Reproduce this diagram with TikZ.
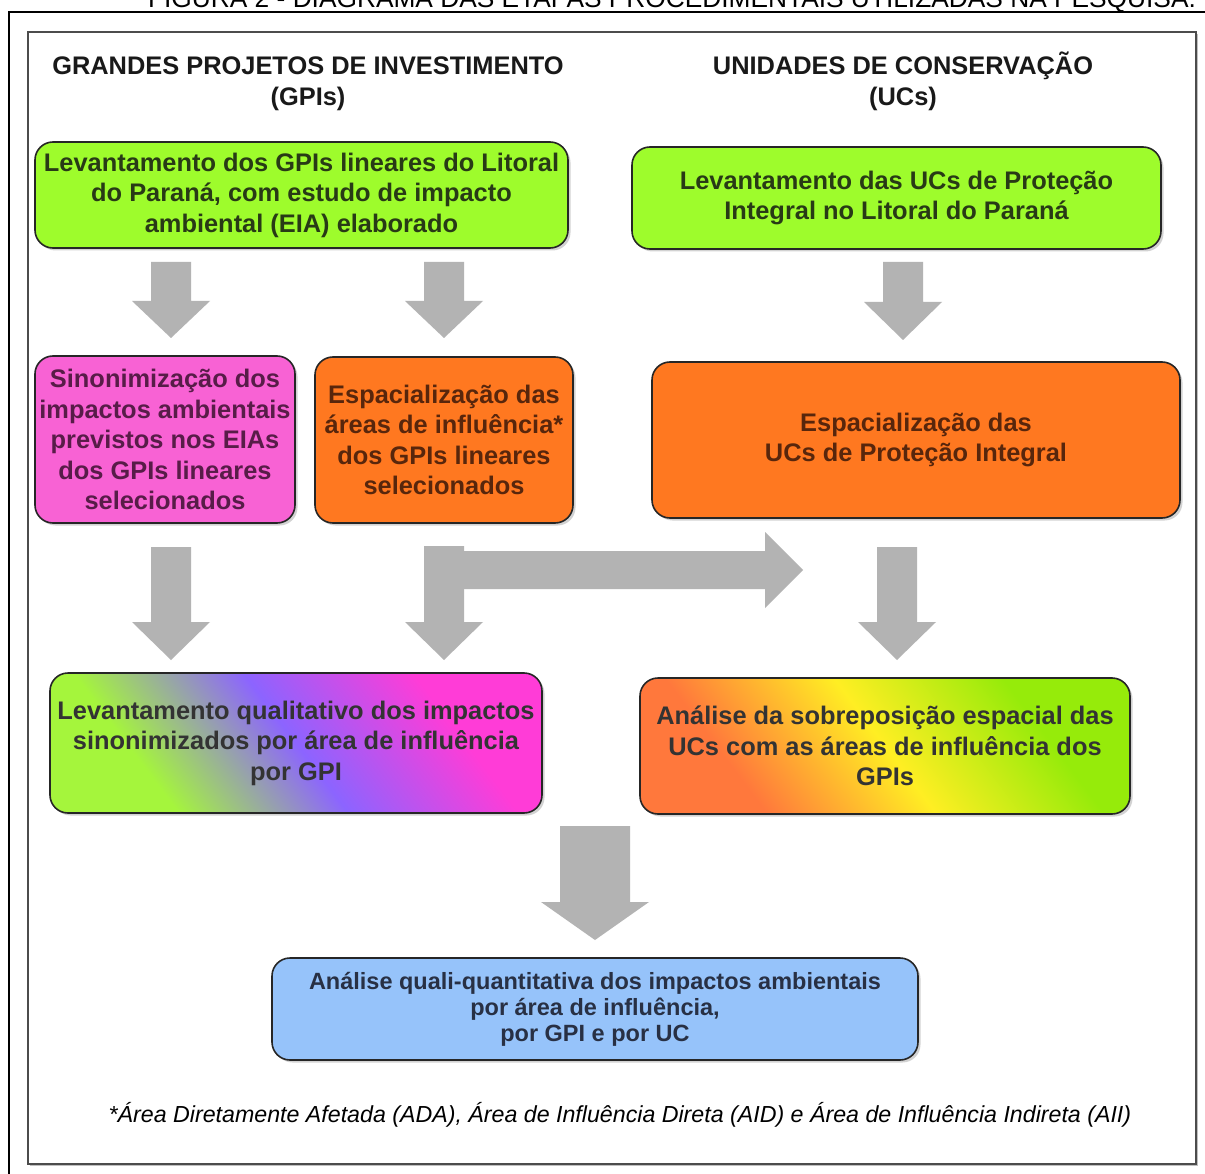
\documentclass[tikz,border=0pt]{standalone}
\usepackage{fontspec}
\setmainfont{Liberation Sans}
\usetikzlibrary{calc,shadows}
\definecolor{gfill}{RGB}{158,252,44}
\definecolor{gtext}{RGB}{40,58,22}
\definecolor{pfill}{RGB}{248,98,212}
\definecolor{ptext}{RGB}{88,28,72}
\definecolor{ofill}{RGB}{255,120,32}
\definecolor{otext}{RGB}{88,38,12}
\definecolor{bfill}{RGB}{150,195,250}
\definecolor{btext}{RGB}{40,48,68}
\definecolor{fgreen}{RGB}{165,245,60}
\definecolor{fpurple}{RGB}{140,100,255}
\definecolor{fmagenta}{RGB}{255,60,215}
\definecolor{gorange}{RGB}{255,120,60}
\definecolor{gyellow}{RGB}{255,238,35}
\definecolor{ggreen}{RGB}{150,235,10}
\definecolor{arrowgray}{RGB}{179,179,179}
\pgfdeclarehorizontalshading{shF}{100bp}{color(0bp)=(fgreen); color(30bp)=(fgreen); color(50bp)=(fpurple); color(70bp)=(fmagenta); color(100bp)=(fmagenta)}
\pgfdeclarehorizontalshading{shG}{100bp}{color(0bp)=(gorange); color(30bp)=(gorange); color(50bp)=(gyellow); color(70bp)=(ggreen); color(100bp)=(ggreen)}
\newcommand\blockdown[5]{%
  \fill[arrowgray] let \p1=(#1), \p2=(#2) in
    (\x1-#3pt,\y1) -- (\x1+#3pt,\y1) -- (\x1+#3pt,\y2+#5pt) -- (\x1+#4pt,\y2+#5pt)
    -- (\x2,\y2) -- (\x1-#4pt,\y2+#5pt) -- (\x1-#3pt,\y2+#5pt) -- cycle;}
\begin{document}
\begin{tikzpicture}[x=1pt,y=-1pt,
  box/.style={draw=black!85, line width=1.6pt, rounded corners=18pt, align=center,
    inner sep=0pt, font=\bfseries\fontsize{25.4}{30.5}\selectfont,
    drop shadow={shadow xshift=2.5pt, shadow yshift=-2.5pt, opacity=0.35}},
  heading/.style={align=center, font=\bfseries\fontsize{25.4}{31}\selectfont, text=black!90}]
\useasboundingbox (0,0) rectangle (1205,1174);
\fill[white] (0,0) rectangle (1205,1174);
% title (cut by the page top, as in the reference)
\begin{scope}
\clip (0,0) rectangle (1205,1174);
\node[anchor=base, font=\fontsize{26.3}{26}\selectfont, inner sep=0pt] (title) at (672,8)
  {FIGURA 2 - DIAGRAMA DAS ETAPAS PROCEDIMENTAIS UTILIZADAS NA PESQUISA.};
\end{scope}
% frames
\draw[line width=2.5pt, black] (9,1174) -- (9,12) -- (1205,12);
\draw[black!70, line width=1.2pt, fill=white,
  drop shadow={shadow xshift=2pt, shadow yshift=-2pt, opacity=0.5}] (28,32) rectangle (1196,1164);
% headings
\node[heading, text height=18pt, text depth=6pt] (h1) at (308,100) {GRANDES PROJETOS DE INVESTIMENTO\\(GPIs)};
\node[heading, text height=18pt, text depth=6pt] (h2) at (903,100) {UNIDADES DE CONSERVAÇÃO\\(UCs)};
% boxes
\node[box, fill=gfill, text=gtext, minimum width=533, minimum height=106] (A) at (301.5,195)
  {Levantamento dos GPIs lineares do Litoral\\do Paraná, com estudo de impacto\\ambiental (EIA) elaborado};
\node[box, fill=gfill, text=gtext, minimum width=529, minimum height=102] (B) at (896.5,198)
  {Levantamento das UCs de Proteção\\Integral no Litoral do Paraná};
\node[box, fill=pfill, text=ptext, minimum width=260, minimum height=167] (C) at (165,439.5)
  {Sinonimização dos\\impactos ambientais\\previstos nos EIAs\\dos GPIs lineares\\selecionados};
\node[box, fill=ofill, text=otext, minimum width=258, minimum height=166] (D) at (444,440)
  {Espacialização das\\áreas de influência*\\dos GPIs lineares\\selecionados};
\node[box, fill=ofill, text=otext, minimum width=528, minimum height=156] (E) at (916,440)
  {Espacialização das\\UCs de Proteção Integral};
\node[box, shade, shading=shF, shading angle=37, text=black!80, minimum width=492, minimum height=140] (F) at (296,743)
  {Levantamento qualitativo dos impactos\\sinonimizados por área de influência\\por GPI};
\node[box, shade, shading=shG, shading angle=37, text=black!80, minimum width=490, minimum height=136] (G) at (885,746)
  {Análise da sobreposição espacial das\\UCs com as áreas de influência dos\\GPIs};
\node[box, fill=bfill, text=btext, minimum width=646, minimum height=102,
  font=\bfseries\fontsize{23.5}{26}\selectfont] (H) at (595,1009)
  {Análise quali-quantitativa dos impactos ambientais\\por área de influência,\\por GPI e por UC};
% footnote
\node[anchor=base, font=\itshape\fontsize{23.2}{26}\selectfont, inner sep=0pt] (note) at (620,1122)
  {*Área Diretamente Afetada (ADA), Área de Influência Direta (AID) e Área de Influência Indireta (AII)};
% arrow end points
\coordinate (a1s) at (171,262); \coordinate (a1e) at (171,338);
\coordinate (a2s) at (444,262); \coordinate (a2e) at (444,338);
\coordinate (a3s) at (903,262); \coordinate (a3e) at (903,340);
\coordinate (a4s) at (171,547); \coordinate (a4e) at (171,660);
\coordinate (a5s) at (444,546); \coordinate (a5e) at (444,660);
\coordinate (a6s) at (897,547); \coordinate (a6e) at (897,660);
\coordinate (a7s) at (595,826); \coordinate (a7e) at (595,940);
\coordinate (rs) at (425,570); \coordinate (re) at (803,570);
% arrows
\blockdown{a1s}{a1e}{20}{39}{37}
\blockdown{a2s}{a2e}{20}{39}{37}
\blockdown{a3s}{a3e}{20}{39}{38}
\blockdown{a4s}{a4e}{20}{39}{38}
\blockdown{a5s}{a5e}{20}{39}{38}
\blockdown{a6s}{a6e}{20}{39}{38}
\blockdown{a7s}{a7e}{35}{54}{38}
\fill[arrowgray] let \p1=(rs), \p2=(re) in
  (\x1,\y1+19pt) -- (\x2-38pt,\y1+19pt) -- (\x2-38pt,\y1+38pt) -- (\x2,\y2)
  -- (\x2-38pt,\y1-38pt) -- (\x2-38pt,\y1-19pt) -- (\x1,\y1-19pt) -- cycle;
\end{tikzpicture}
\end{document}
